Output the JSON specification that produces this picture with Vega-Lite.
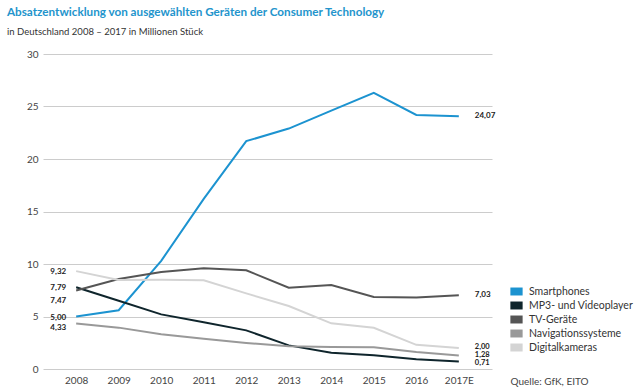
{
  "$schema": "https://vega.github.io/schema/vega-lite/v6.json",
  "autosize": {"type": "none"},
  "width": 449,
  "height": 315,
  "padding": {"left": 43, "top": 54, "right": 143, "bottom": 21},
  "background": "white",
  "config": {
    "font": "Lato",
    "view": {"stroke": null},
    "locale": {"number": {"decimal": ",", "thousands": ".", "grouping": [3], "currency": ["", " €"]}}
  },
  "title": {
    "text": "Absatzentwicklung von ausgewählten Geräten der Consumer Technology",
    "subtitle": "in Deutschland 2008 – 2017 in Millionen Stück",
    "anchor": "start",
    "frame": "group",
    "dx": -36,
    "offset": 13,
    "font": "Lato",
    "fontSize": 11.7,
    "fontWeight": "bold",
    "color": "#2394cc",
    "subtitleFont": "Lato",
    "subtitleFontSize": 9.5,
    "subtitleColor": "#333333",
    "subtitlePadding": 8
  },
  "data": {
    "values": [
      {"jahr": "2008", "serie": "Smartphones", "wert": 5.00},
      {"jahr": "2009", "serie": "Smartphones", "wert": 5.6},
      {"jahr": "2010", "serie": "Smartphones", "wert": 10.3},
      {"jahr": "2011", "serie": "Smartphones", "wert": 16.2},
      {"jahr": "2012", "serie": "Smartphones", "wert": 21.7},
      {"jahr": "2013", "serie": "Smartphones", "wert": 22.9},
      {"jahr": "2014", "serie": "Smartphones", "wert": 24.6},
      {"jahr": "2015", "serie": "Smartphones", "wert": 26.3},
      {"jahr": "2016", "serie": "Smartphones", "wert": 24.2},
      {"jahr": "2017E", "serie": "Smartphones", "wert": 24.07},
      {"jahr": "2008", "serie": "MP3- und Videoplayer", "wert": 7.79},
      {"jahr": "2009", "serie": "MP3- und Videoplayer", "wert": 6.5},
      {"jahr": "2010", "serie": "MP3- und Videoplayer", "wert": 5.2},
      {"jahr": "2011", "serie": "MP3- und Videoplayer", "wert": 4.45},
      {"jahr": "2012", "serie": "MP3- und Videoplayer", "wert": 3.68},
      {"jahr": "2013", "serie": "MP3- und Videoplayer", "wert": 2.25},
      {"jahr": "2014", "serie": "MP3- und Videoplayer", "wert": 1.55},
      {"jahr": "2015", "serie": "MP3- und Videoplayer", "wert": 1.3},
      {"jahr": "2016", "serie": "MP3- und Videoplayer", "wert": 0.92},
      {"jahr": "2017E", "serie": "MP3- und Videoplayer", "wert": 0.71},
      {"jahr": "2008", "serie": "TV-Geräte", "wert": 7.47},
      {"jahr": "2009", "serie": "TV-Geräte", "wert": 8.57},
      {"jahr": "2010", "serie": "TV-Geräte", "wert": 9.24},
      {"jahr": "2011", "serie": "TV-Geräte", "wert": 9.59},
      {"jahr": "2012", "serie": "TV-Geräte", "wert": 9.4},
      {"jahr": "2013", "serie": "TV-Geräte", "wert": 7.75},
      {"jahr": "2014", "serie": "TV-Geräte", "wert": 8.0},
      {"jahr": "2015", "serie": "TV-Geräte", "wert": 6.86},
      {"jahr": "2016", "serie": "TV-Geräte", "wert": 6.8},
      {"jahr": "2017E", "serie": "TV-Geräte", "wert": 7.03},
      {"jahr": "2008", "serie": "Navigationssysteme", "wert": 4.33},
      {"jahr": "2009", "serie": "Navigationssysteme", "wert": 3.94},
      {"jahr": "2010", "serie": "Navigationssysteme", "wert": 3.3},
      {"jahr": "2011", "serie": "Navigationssysteme", "wert": 2.89},
      {"jahr": "2012", "serie": "Navigationssysteme", "wert": 2.48},
      {"jahr": "2013", "serie": "Navigationssysteme", "wert": 2.16},
      {"jahr": "2014", "serie": "Navigationssysteme", "wert": 2.1},
      {"jahr": "2015", "serie": "Navigationssysteme", "wert": 2.06},
      {"jahr": "2016", "serie": "Navigationssysteme", "wert": 1.62},
      {"jahr": "2017E", "serie": "Navigationssysteme", "wert": 1.28},
      {"jahr": "2008", "serie": "Digitalkameras", "wert": 9.32},
      {"jahr": "2009", "serie": "Digitalkameras", "wert": 8.48},
      {"jahr": "2010", "serie": "Digitalkameras", "wert": 8.5},
      {"jahr": "2011", "serie": "Digitalkameras", "wert": 8.45},
      {"jahr": "2012", "serie": "Digitalkameras", "wert": 7.2},
      {"jahr": "2013", "serie": "Digitalkameras", "wert": 6.0},
      {"jahr": "2014", "serie": "Digitalkameras", "wert": 4.35},
      {"jahr": "2015", "serie": "Digitalkameras", "wert": 3.93},
      {"jahr": "2016", "serie": "Digitalkameras", "wert": 2.3},
      {"jahr": "2017E", "serie": "Digitalkameras", "wert": 2.00}
    ]
  },
  "encoding": {
    "x": {
      "field": "jahr",
      "type": "ordinal",
      "scale": {"type": "point", "padding": 0.78},
      "axis": {
        "labelAngle": 0,
        "domain": false,
        "ticks": false,
        "labelPadding": 6,
        "labelFontSize": 10,
        "labelColor": "#444444",
        "title": "Quelle: GfK, EITO",
        "titleX": 467,
        "titleY": 12,
        "titleAlign": "left",
        "titleAnchor": null,
        "titleBaseline": "middle",
        "titleFontWeight": "normal",
        "titleFontSize": 10,
        "titleColor": "#444444"
      }
    },
    "y": {
      "field": "wert",
      "type": "quantitative",
      "scale": {"domain": [0, 30]},
      "axis": {
        "values": [0, 5, 10, 15, 20, 25, 30],
        "domain": false,
        "ticks": false,
        "labelPadding": 5,
        "labelFontSize": 10,
        "labelColor": "#444444",
        "gridColor": "#cccccc",
        "gridWidth": 1,
        "title": null
      }
    }
  },
  "layer": [
    {
      "mark": {"type": "line", "strokeWidth": 2},
      "encoding": {
        "color": {
          "field": "serie",
          "type": "nominal",
          "scale": {
            "domain": ["Smartphones", "MP3- und Videoplayer", "TV-Geräte", "Navigationssysteme", "Digitalkameras"],
            "range": ["#1c93d0", "#0f252c", "#555555", "#999999", "#d4d4d4"]
          },
          "legend": {
            "title": null,
            "orient": "none",
            "legendX": 467,
            "legendY": 231,
            "symbolType": "M-1,-0.65H1V0.65H-1Z",
            "symbolSize": 150,
            "symbolStrokeWidth": 0,
            "symbolOpacity": 1,
            "labelFontSize": 10.5,
            "labelColor": "#333333",
            "labelOffset": 6,
            "rowPadding": 2,
            "encode": {
              "symbols": {
                "update": {
                  "fill": {"scale": "color", "field": "value"},
                  "fillOpacity": {"value": 1},
                  "strokeWidth": {"value": 0}
                }
              }
            }
          }
        },
        "order": {"field": "serie", "sort": "descending"}
      }
    },
    {
      "transform": [{"filter": "datum.jahr == '2017E' && datum.serie != 'MP3- und Videoplayer' && datum.serie != 'Navigationssysteme' && datum.serie != 'Digitalkameras'"}],
      "mark": {"type": "text", "align": "left", "dx": 16, "dy": 0, "fontSize": 8, "fontWeight": "bold", "color": "#222222"},
      "encoding": {"text": {"field": "wert", "type": "quantitative", "format": ".2f"}}
    },
    {
      "transform": [{"filter": "datum.jahr == '2017E' && datum.serie == 'Digitalkameras'"}],
      "mark": {"type": "text", "align": "left", "dx": 16, "dy": -1, "fontSize": 7.5, "fontWeight": "bold", "color": "#222222"},
      "encoding": {"text": {"field": "wert", "type": "quantitative", "format": ".2f"}}
    },
    {
      "transform": [{"filter": "datum.jahr == '2017E' && datum.serie == 'Navigationssysteme'"}],
      "mark": {"type": "text", "align": "left", "dx": 16, "dy": -0.5, "fontSize": 7.5, "fontWeight": "bold", "color": "#222222"},
      "encoding": {"text": {"field": "wert", "type": "quantitative", "format": ".2f"}}
    },
    {
      "transform": [{"filter": "datum.jahr == '2017E' && datum.serie == 'MP3- und Videoplayer'"}],
      "mark": {"type": "text", "align": "left", "dx": 16, "dy": 1.5, "fontSize": 7.5, "fontWeight": "bold", "color": "#222222"},
      "encoding": {"text": {"field": "wert", "type": "quantitative", "format": ".2f"}}
    },
    {
      "transform": [{"filter": "datum.jahr == '2008' && datum.serie != 'TV-Geräte' && datum.serie != 'Navigationssysteme'"}],
      "mark": {"type": "text", "align": "right", "dx": -10, "dy": 1, "fontSize": 8, "fontWeight": "bold", "color": "#222222"},
      "encoding": {"text": {"field": "wert", "type": "quantitative", "format": ".2f"}}
    },
    {
      "transform": [{"filter": "datum.jahr == '2008' && datum.serie == 'TV-Geräte'"}],
      "mark": {"type": "text", "align": "right", "dx": -10, "dy": 10, "fontSize": 8, "fontWeight": "bold", "color": "#222222"},
      "encoding": {"text": {"field": "wert", "type": "quantitative", "format": ".2f"}}
    },
    {
      "transform": [{"filter": "datum.jahr == '2008' && datum.serie == 'Navigationssysteme'"}],
      "mark": {"type": "text", "align": "right", "dx": -10, "dy": 4, "fontSize": 8, "fontWeight": "bold", "color": "#222222"},
      "encoding": {"text": {"field": "wert", "type": "quantitative", "format": ".2f"}}
    }
  ]
}
